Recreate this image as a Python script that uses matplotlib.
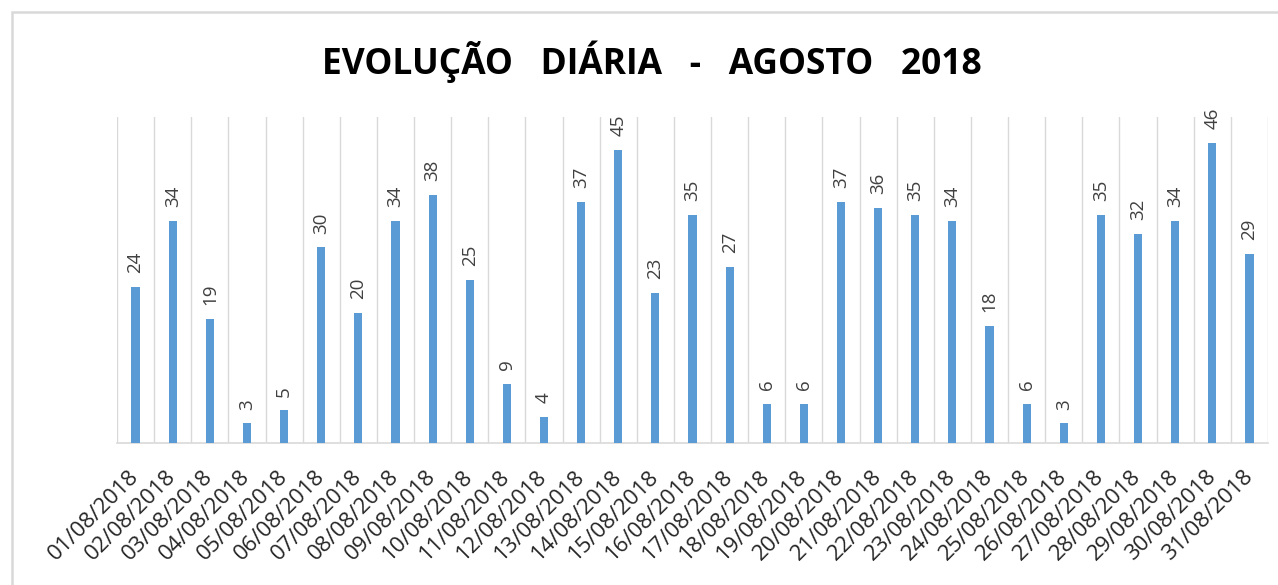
import matplotlib
matplotlib.use("Agg")
import matplotlib.pyplot as plt
from matplotlib.patches import Rectangle

# daily totals, August 2018
dias = ["%02d/08/2018" % d for d in range(1, 32)]
valores = [24, 34, 19, 3, 5, 30, 20, 34, 38, 25, 9, 4, 37, 45, 23, 35,
           27, 6, 6, 37, 36, 35, 34, 18, 6, 3, 35, 32, 34, 46, 29]

plt.rcParams['font.family'] = ['Open Sans', 'DejaVu Sans']

fig = plt.figure(figsize=(12.78, 5.85), dpi=100)
ax = fig.add_axes([117 / 1278, 1 - 443 / 585, (1268 - 117) / 1278, (443 - 117) / 585])

# chart frame (only top/left visible in the crop)
fig.patches.append(Rectangle((12 / 1278, -0.1), 1.1, 1 - 12 / 585 + 0.1,
                             transform=fig.transFigure, fill=False,
                             edgecolor='#d9d9d9', linewidth=1.8))

x = list(range(len(dias)))
ax.bar(x, valores, width=0.22, color='#5b9bd5', zorder=3)

for xi, v in zip(x, valores):
    ax.annotate(str(v), (xi, v), xytext=(0, 10), textcoords='offset points',
                rotation=90, ha='center', va='bottom', fontsize=13.5, color='#404040')

ax.set_xlim(-0.5, len(dias) - 0.5)
ax.set_ylim(0, 50)

# vertical gridlines between categories
for b in range(len(dias) + 1):
    ax.axvline(b - 0.5, color='#d9d9d9', linewidth=1, zorder=1)

ax.set_xticks(x)
ax.set_xticklabels(dias, rotation=45, ha='right', va='center', rotation_mode='anchor',
                   fontsize=16, color='#262626')
ax.tick_params(axis='x', length=0, pad=22)
ax.set_yticks([])
for s in ['top', 'left', 'right']:
    ax.spines[s].set_visible(False)
ax.spines['bottom'].set_color('#d9d9d9')
ax.spines['bottom'].set_linewidth(1.2)

fig.text(652 / 1278, 1 - 62 / 585, "EVOLUÇÃO   DIÁRIA   -   AGOSTO   2018",
         ha='center', va='center', fontsize=25.5, fontweight='bold', color='black')

fig.savefig('out.png', dpi=100)
